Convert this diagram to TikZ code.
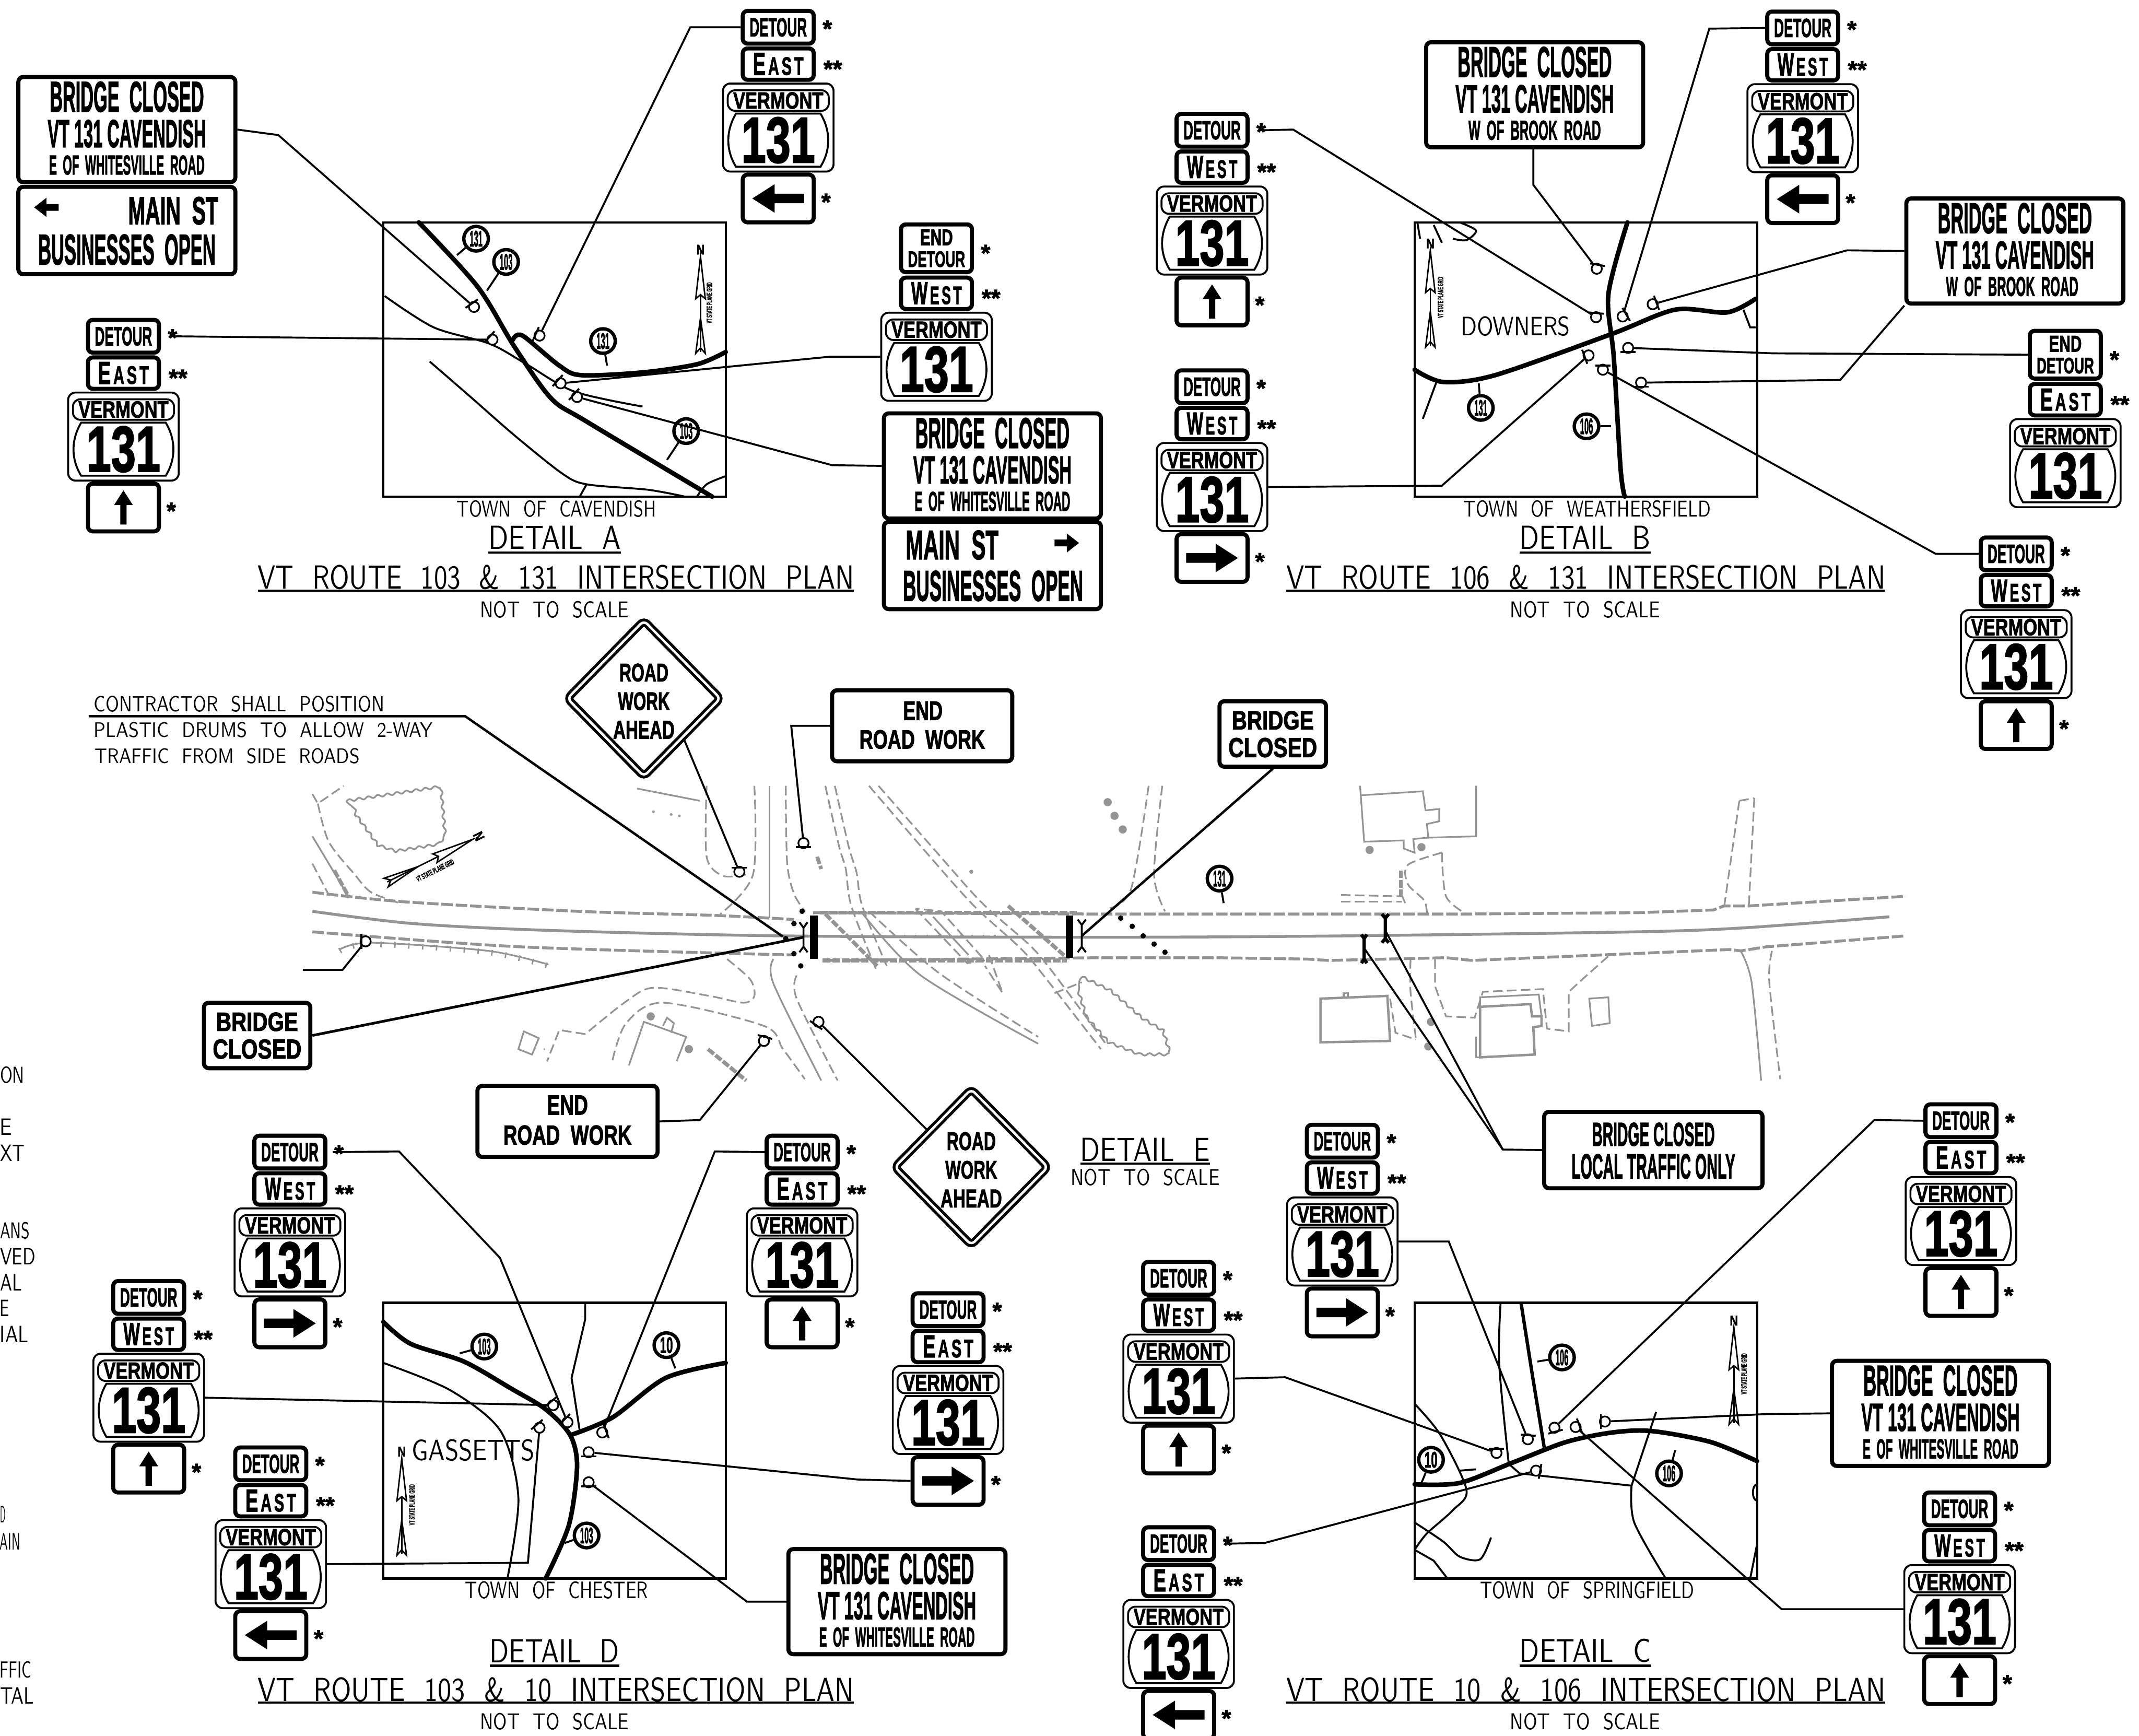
\documentclass[tikz,border=0pt]{standalone}
\usepackage{fontspec}
\usepackage{graphicx}
\usetikzlibrary{shapes.geometric,decorations.pathmorphing}

\newfontfamily\signfont[BoldFeatures={FakeBold=2.2}]{Liberation Sans}

% text fitted to a width and a height in mm
\newcommand{\signtxt}[3]{\resizebox{#1mm}{#2mm}{\signfont\bfseries #3}}
\newcommand{\cadtxt}[3]{\resizebox{#1mm}{#2mm}{\sffamily\spaceskip=.7em\relax #3}}
\newcommand{\eastword}{E\scalebox{.8}{\,A\,S\,T}}
\newcommand{\westword}{W\scalebox{.8}{\,E\,S\,T}}

\tikzset{
    signbox/.style = {draw, line width=.85pt, rounded corners=1pt, fill=white, inner sep=0pt},
    shieldbox/.style = {draw, line width=.4pt, rounded corners=1.5pt, fill=white, inner sep=0pt,
        minimum width=.81cm, minimum height=.645cm},
    pillbox/.style = {draw, line width=.4pt, rounded corners=1.5pt, inner sep=0pt,
        minimum width=.74cm, minimum height=.15cm},
    txt/.style = {inner sep=0pt, outer sep=0pt},
    starmark/.style = {inner sep=0pt, yshift=-1pt, font=\fontsize{5}{6}\signfont\bfseries},
    leader/.style = {draw, line width=.4pt},
    frame/.style = {draw, line width=.45pt, inner sep=0pt},
    mainroad/.style = {line width=.95pt, line cap=round},
    sideroad/.style = {line width=.4pt},
    roadmark/.style = {draw, circle, fill=white, line width=.7pt, inner sep=0pt, minimum size=.18cm},
    post/.style = {draw, circle, fill=white, line width=.35pt, inner sep=0pt, minimum size=.075cm},
    planline/.style = {draw=black!42, line width=.35pt},
    plandash/.style = {draw=black!42, line width=.35pt, dash pattern=on 2pt off .9pt},
    edgedash/.style = {draw=black!42, line width=.6pt, dash pattern=on 2.4pt off .6pt},
    planthick/.style = {draw=black!42, line width=.8pt, dash pattern=on 1.6pt off .4pt},
    plantree/.style = {circle, fill=black!42, inner sep=0pt, minimum width=.04cm, minimum height=.06cm},
    drum/.style = {circle, fill=black, inner sep=0pt, minimum size=.04cm},
    wiggle/.style = {decorate, decoration={snake, amplitude=.25pt, segment length=2pt}},
}

% name, centre x, y of its top
\newcommand{\routeshield}[3]{
    \begin{scope}[shift={(#2,#3)}]
        \node[shieldbox] (#1s) at (0,32.5) {};
        \node[pillbox] (#1p) at (0,12.7) {\signtxt{6.6}{1.2}{VERMONT}};
        \draw[line width=.4pt] (-31,22.3) -- (31,22.3) .. controls (38.5,35) and (38.5,49) .. (31,61.2)
            -- (-31,61.2) .. controls (-38.5,49) and (-38.5,35) .. (-31,22.3) -- cycle;
        \node[txt] (#1n) at (0,41.8) {\signtxt{5.4}{3.3}{131}};
    \end{scope}
}

% name, centre x, top y, direction word, arrow angle
\newcommand{\detourstack}[5]{
    \begin{scope}[shift={(#2,#3)}]
        \node[signbox,minimum width=.52cm,minimum height=.24cm] (#1d) at (0,13.5) {\signtxt{4.2}{1.35}{DETOUR}};
        \node[signbox,minimum width=.52cm,minimum height=.23cm] (#1r) at (0,40.5) {\signtxt{3.7}{1.6}{#4}};
        \node[signbox,minimum width=.52cm,minimum height=.35cm] (#1a) at (0,139) {};
        \ifnum#5=90
            \fill[shift={(0,139)},rotate=#5,scale=.66] (-19,-3.5) -- (2.6,-3.5) -- (2.6,-10.5) -- (19,0) -- (2.6,10.5) -- (2.6,3.5) -- (-19,3.5) -- cycle;
        \else
            \fill[shift={(0,139)},rotate=#5] (-19,-3.5) -- (2.6,-3.5) -- (2.6,-10.5) -- (19,0) -- (2.6,10.5) -- (2.6,3.5) -- (-19,3.5) -- cycle;
        \fi
        \node[starmark] (#1t) at (36,11) {*};
        \node[starmark] (#1u) at (40,40.5) {**};
        \node[starmark] (#1v) at (35,138) {*};
    \end{scope}
    \routeshield{#1}{#2}{#3+54.5}
}

% name, centre x, top y, direction word
\newcommand{\finishstack}[4]{
    \begin{scope}[shift={(#2,#3)}]
        \node[signbox,minimum width=.52cm,minimum height=.35cm] (#1d) at (0,19) {};
        \node[txt] (#1e) at (0,11) {\signtxt{2.4}{1.15}{END}};
        \node[txt] (#1f) at (0,27) {\signtxt{4.2}{1.15}{DETOUR}};
        \node[signbox,minimum width=.52cm,minimum height=.23cm] (#1r) at (0,52) {\signtxt{3.7}{1.6}{#4}};
        \node[starmark] (#1t) at (36,19) {*};
        \node[starmark] (#1u) at (40,52) {**};
    \end{scope}
    \routeshield{#1}{#2}{#3+66}
}

% name, centre x, centre y, last line, its width, its shift
\newcommand{\bridgesign}[6]{
    \begin{scope}[shift={(#2,#3)}]
        \node[signbox,minimum width=1.59cm,minimum height=.77cm] (#1) at (0,0) {};
        \node[txt] (#1x) at (0,-24) {\signtxt{11.3}{2.2}{BRIDGE\ \ CLOSED}};
        \node[txt] (#1y) at (0,3) {\signtxt{11.6}{2}{VT 131 CAVENDISH}};
        \node[txt] (#1z) at (#6,26) {\signtxt{#5}{1.4}{\spaceskip=.5em\relax #4}};
    \end{scope}
}

% name, centre x, centre y
\newcommand{\roadworkdiamond}[3]{
    \begin{scope}[shift={(#2,#3)}]
        \node[diamond,draw,double,double distance=.5pt,line width=.6pt,fill=white,inner sep=0pt,
            minimum width=1.13cm,minimum height=1.15cm,rounded corners=1pt] (#1) at (0,0) {};
        \node[txt] (#1x) at (0,-19) {\signtxt{3.6}{1.3}{ROAD}};
        \node[txt] (#1y) at (0,2) {\signtxt{3.8}{1.3}{WORK}};
        \node[txt] (#1z) at (0,23) {\signtxt{4.5}{1.3}{AHEAD}};
    \end{scope}
}

% name, x, y, angle of the bar
\newcommand{\signpost}[4]{
    \node[post] (#1) at (#2,#3) {};
    \draw[line width=.4pt,shift={(#2,#3)},rotate=#4] (3,-5.5) -- (3,5.5);
}

% name, x, y, text
\newcommand{\routemark}[4]{
    \node[roadmark] (#1) at (#2,#3) {\signtxt{.95}{1.15}{#4}};
}

% name, x, y of the N, rotation
\newcommand{\northmark}[4]{
    \begin{scope}[shift={(#2,#3)},rotate=#4]
        \draw[line width=.3pt] (0,5) -- (-3.5,36) -- (0,33) -- (3.5,36) -- cycle;
        \draw[line width=.3pt] (0,33) -- (0,75);
        \draw[line width=.3pt] (0,50) -- (-3.5,76) -- (0,72) -- (3.5,76) -- cycle;
    \end{scope}
    \node[txt,rotate=#4] (#1n) at (#2,#3) {\signtxt{.6}{.7}{N}};
}

\begin{document}
\begin{tikzpicture}[x=0.01cm,y=-0.01cm]

    \useasboundingbox (0,0) rectangle (1568,1272.3);

    % Detail E, the plan in grey
    \draw[planline,line width=.6pt] plot[smooth] coordinates {(229,668) (303,677) (403,682) (573,686) (808,687) (985,686) (1201,683) (1280,680) (1385,672)};
    \draw[edgedash] plot[smooth] coordinates {(229,654) (296,661) (424,668) (524,671) (582,674)};
    \draw[edgedash] (596,669) -- (808,670) -- (1044,670) -- (1072,670) -- (1201,669) -- (1256,667) -- (1264,664) -- (1283,664) -- (1397,657);
    \draw[edgedash] plot[smooth] coordinates {(229,683) (381,694) (582,700)};
    \draw[edgedash] (607,704) -- (808,702) -- (891,702) -- (958,703) -- (974,704) -- (1060,702) -- (1079,704) -- (1126,702) -- (1150,701) -- (1268,696) -- (1276,697) -- (1295,694) -- (1397,686);
    \draw[planline] (564,576) -- (564,673);
    \draw[plandash] plot[smooth] coordinates {(553,576) (552,641) (528,670)};
    \draw[plandash] plot[smooth] coordinates {(576,576) (577,632) (582,655) (590,668)};
    \draw[planline] (467,578) -- (513,587);
    \draw[plandash] plot[smooth] coordinates {(518,576) (518,628) (530,642) (547,641)};
    \node[plantree,minimum size=.02cm] (ta) at (479,595) {};
    \node[plantree,minimum size=.02cm] (tb) at (492,597) {};
    \node[plantree,minimum size=.02cm] (tc) at (498,598) {};

    % west of the side road
    \draw[planline,wiggle] (254,587) -- (320,577) -- (323,611) -- (318,617) -- (287,622) -- (272,617) -- (256,595) -- cycle;
    \draw[plandash] (229,582) -- (233,589) -- (252,576);
    \draw[plandash] plot[smooth] coordinates {(233,589) (241,617) (260,641) (272,654) (293,662)};
    \draw[plandash] (229,633) -- (241,656);
    \draw[planline] (229,613) -- (256,658);
    \draw[planthick] (245,638) -- (256,658);
    \draw[planline] plot[smooth] coordinates {(249,696) (272,691) (358,697) (402,707)};
    \draw[draw=black!42,line width=1.2pt,dash pattern=on .3pt off 2.6pt] plot[smooth] coordinates {(249,697) (272,692) (358,698) (402,708)};
    \northmark{nx}{351}{613}{-63.5}
    \node[txt,rotate=26.5] (nxg) at (319,638) {\signtxt{3}{.4}{VT STATE PLANE GRID}};

    % stream and bridge
    \draw[planthick] (601,669) -- (790,669);
    \draw[planthick] (603,704) -- (782,704);
    \draw[planline,dotted] (646,686) -- (731,686);
    \draw[plandash] plot[smooth] coordinates {(605,576) (615,620) (620,637) (624,664) (642,710)};
    \draw[plandash] plot[smooth] coordinates {(612,576) (622,620) (628,640) (632,664) (650,708)};
    \draw[planthick] (605,670) -- (643,708);
    \draw[planline] plot[smooth] coordinates {(631,668) (675,715) (761,765)};
    \draw[plandash] plot[smooth] coordinates {(637,668) (688,713) (761,760)};
    \draw[plandash] plot[smooth] coordinates {(637,576) (680,626) (714,664) (748,695) (765,715) (807,769)};
    \draw[plandash] plot[smooth] coordinates {(644,576) (686,624) (720,662) (755,693) (772,713) (812,767)};
    \draw[planthick] (739,664) -- (782,702);
    \draw[plandash] (671,666) -- (709,706) -- (722,704) -- (690,668) -- cycle;
    \draw[planline] (684,672) -- (710,700);
    \draw[plandash] (725,700) -- (735,728) -- (722,708);
    \draw[planline,wiggle] (793,716) -- (812,725) -- (835,745) -- (852,755) -- (857,771) -- (835,771) -- (812,762) -- (797,745) -- (790,722) -- cycle;
    \draw[plandash] (773,728) -- (793,720);
    \draw[plandash] plot[smooth] coordinates {(852,576) (846,641) (854,668)};
    \draw[plandash] plot[smooth] coordinates {(842,576) (829,652) (812,666)};
    \node[plantree] (td) at (812,588) {};
    \node[plantree] (te) at (817,598) {};
    \node[plantree] (tf) at (823,608) {};
    \node[plantree,minimum height=.03cm,minimum width=.02cm] (tg) at (712,639) {};
    \draw[planthick] (599,628) -- (602,637);

    % south of the road, west part
    \draw[plandash] plot[smooth] coordinates {(533,703) (550,718) (553,730) (545,735) (520,730) (479,724) (459,734) (429,758)};
    \draw[plandash] (429,758) -- (410,755) -- (401,778);
    \draw[plandash] plot[smooth] coordinates {(449,777) (459,750) (486,735) (560,752) (574,769) (590,791)};
    \draw[planline] plot[smooth] coordinates {(567,703) (567,721) (602,792)};
    \draw[plandash] plot[smooth] coordinates {(584,715) (584,732) (614,792)};
    \draw[planline] (461,781) -- (472,749) -- (503,760) -- (496,778);
    \draw[planline] (486,752) -- (489,746) -- (494,750) -- (492,757);
    \draw[planline] (384,756) -- (395,761) -- (390,773) -- (380,769) -- cycle;
    \node[plantree] (th) at (477,745) {};
    \node[plantree] (ti) at (505,769) {};
    \node[plantree,minimum size=.015cm] (tj) at (399,769) {};
    \draw[planthick] (519,769) -- (547,792);

    % buildings east of the bridge
    \draw[planline] (997,583) -- (1043,580) -- (1045,594) -- (1055,593) -- (1055,602) -- (1046,604) -- (1047,614) -- (1082,613) -- (1082,576);
    \draw[planline] (997,576) -- (1000,617) -- (1029,616) -- (1029,622) -- (1037,625) -- (1036,615) -- (1047,614);
    \node[plantree] (tk) at (1004,623) {};
    \node[plantree] (tl) at (1042,621) {};
    \draw[plandash] plot[smooth] coordinates {(1057,625) (1032,634) (1032,648) (1044,660) (1046,670)};
    \draw[plandash] plot[smooth] coordinates {(1057,625) (1060,657) (1075,670)};
    \draw[planthick] (1027,638) -- (1027,657);
    \draw[plandash] (983,656) -- (1028,657);
    \draw[plandash] (983,661) -- (1028,661);
    \draw[planline] (1028,657) -- (1030,662);
    \draw[plandash] (1275,587) -- (1286,585);
    \draw[plandash] (1275,587) -- (1264,664);
    \draw[plandash] (1286,585) -- (1282,664);
    \draw[plandash] plot[smooth] coordinates {(1034,703) (1034,727) (1038,762)};
    \draw[plandash] (1019,732) -- (1023,757) -- (1038,762);
    \draw[plandash] (1052,703) -- (1052,723) -- (1060,745) -- (1081,746) -- (1087,727) -- (1131,725) -- (1134,754) -- (1150,756) -- (1150,727) -- (1162,716) -- (1180,700);
    \draw[planline,line width=.5pt] (968,732) -- (1017,730) -- (1019,763) -- (968,764) -- cycle;
    \draw[planline] (985,731) -- (985,728) -- (988,728) -- (988,731);
    \draw[planline,line width=.5pt] (1085,738) -- (1122,736) -- (1123,745) -- (1130,745) -- (1130,752) -- (1124,753) -- (1125,773) -- (1085,775) -- cycle;
    \draw[planline] (1085,738) -- (1085,731) -- (1128,729) -- (1130,745);
    \draw[planline] (1082,760) -- (1082,775) -- (1085,775);
    \draw[planline] (1165,732) -- (1179,731) -- (1180,750) -- (1167,752) -- cycle;
    \draw[planline] plot[smooth] coordinates {(1276,697) (1284,720) (1291,792)};
    \draw[plandash] plot[smooth] coordinates {(1299,697) (1297,720) (1305,791)};
    \node[plantree] (tm) at (1049,749) {};
    \node[plantree] (tn) at (1047,767) {};

    % Barricades and drums
    \draw[line width=1.6pt] (596.5,671) -- (596.5,703);
    \draw[line width=1.6pt] (784,671) -- (784,702);
    \draw[line width=.4pt] (589,680) -- (589,694) (586,676) -- (589,680) -- (592,676) (586,698) -- (589,694) -- (592,698);
    \coordinate (bca) at (589,687);
    \draw[line width=.4pt] (793,678) -- (793,694) (790,674) -- (793,678) -- (796,674) (790,698) -- (793,694) -- (796,698);
    \coordinate (bcb) at (793,686);
    \draw[line width=.7pt] (1000,688) -- (1000,703) (998,685) -- (1000,688) -- (1002,685) (998,706) -- (1000,703) -- (1002,706);
    \coordinate (bcc) at (1000,695);
    \draw[line width=.7pt] (1015.5,673) -- (1015.5,688) (1013,670) -- (1015.5,673) -- (1018,670) (1013,691) -- (1015.5,688) -- (1018,691);
    \coordinate (bcd) at (1015.5,682);
    \foreach \dname/\dx/\dy in {da/588/668,db/582/677,dc/576/688,dd/582/699,de/587/708,df/821.5/673,dg/830/679,dh/838/686,di/846/692,dj/854/698}{
        \node[drum] (\dname) at (\dx,\dy) {};
    }
    \routemark{rme}{894}{644}{131}
    \draw[line width=.4pt] (rme) -- (897,662);

    % Note
    \node[txt,anchor=west] (nta) at (68.8,516) {\cadtxt{21.3}{1.15}{CONTRACTOR SHALL POSITION}};
    \node[txt,anchor=west] (ntb) at (68.8,535) {\cadtxt{24.8}{1.1}{PLASTIC DRUMS TO ALLOW 2-WAY}};
    \node[txt,anchor=west] (ntc) at (69.6,554) {\cadtxt{19.4}{1.1}{TRAFFIC FROM SIDE ROADS}};
    \coordinate (ntl) at (65,525);
    \draw[leader,line width=.5pt] (ntl) -- (341,525) -- (dc);

    % Signs of detail E
    \roadworkdiamond{rwa}{472}{512}
    \roadworkdiamond{rwb}{712}{855.5}
    \node[signbox,minimum width=1.32cm,minimum height=.52cm] (era) at (676,532) {};
    \node[txt] (erax) at (676.5,521) {\signtxt{2.9}{1.35}{END}};
    \node[txt] (eray) at (676,542) {\signtxt{9.2}{1.35}{ROAD\ \ WORK}};
    \node[signbox,minimum width=1.32cm,minimum height=.52cm] (erb) at (416,822) {};
    \node[txt] (erbx) at (416,810) {\signtxt{3}{1.4}{END}};
    \node[txt] (erby) at (416,832) {\signtxt{9.4}{1.4}{ROAD\ \ WORK}};
    \node[signbox,minimum width=.78cm,minimum height=.48cm] (bca1) at (188.5,759) {};
    \node[txt] (bca1x) at (188.5,749) {\signtxt{6}{1.35}{BRIDGE}};
    \node[txt] (bca1y) at (188.5,769) {\signtxt{6.5}{1.4}{CLOSED}};
    \node[signbox,minimum width=.78cm,minimum height=.48cm] (bcb1) at (933,538) {};
    \node[txt] (bcb1x) at (933,528) {\signtxt{6}{1.35}{BRIDGE}};
    \node[txt] (bcb1y) at (933,548) {\signtxt{6.5}{1.4}{CLOSED}};
    \node[signbox,minimum width=1.6cm,minimum height=.56cm] (lto) at (1212,843) {};
    \node[txt] (ltox) at (1212,831.5) {\signtxt{9}{1.7}{BRIDGE CLOSED}};
    \node[txt] (ltoy) at (1212,855) {\signtxt{12}{1.8}{LOCAL TRAFFIC ONLY}};

    \signpost{pea}{542}{639}{90}
    \signpost{peb}{589}{618}{-90}
    \signpost{pec}{600}{749}{-125}
    \signpost{ped}{560}{763}{75}
    \signpost{pee}{268}{690}{180}
    \draw[leader] (rwa.-45) -- (pea);
    \draw[leader] (era.west) -- (580,532) -- (peb);
    \draw[leader] (rwb.140) -- (pec);
    \draw[leader] (erb.east) -- (513,821) -- (ped);
    \coordinate (eel) at (222,711);
    \draw[leader] (eel) -- (251,711) -- (pee);
    \draw[leader,line width=.55pt] (bca1.east) -- (bca);
    \draw[leader,line width=.5pt] (bcb1.south) -- (bcb);
    \draw[leader] (lto.west) -- (1101.6,842.6) -- (bcc);
    \draw[leader] (1101.6,842.6) -- (bcd);

    % Titles of detail E
    \node[txt] (dete) at (839.5,842.5) {\cadtxt{9.5}{1.7}{DETAIL E}};
    \draw[line width=.45pt] (792,853) -- (887,853);
    \node[txt] (nse) at (839.5,863) {\cadtxt{10.9}{1.2}{NOT TO SCALE}};

    % Detail A
    \node[frame,minimum width=2.51cm,minimum height=2.01cm] (fra) at (406.5,263.5) {};
    \draw[mainroad] plot[smooth] coordinates {(307,163) (350,210) (377,254) (404,292) (430,309) (522,364)};
    \draw[mainroad] plot[smooth] coordinates {(376,249) (383,246) (410,268) (426,275) (471,273) (511,267) (532,258)};
    \draw[sideroad] plot[smooth] coordinates {(282,217) (318,240) (359,252) (386,267) (421,287) (471,298)};
    \draw[sideroad] plot[smooth] coordinates {(315,265) (345,291) (377,319) (412,347) (430,355) (475,359) (502,364)};
    \draw[sideroad] (430,355) -- (425,364);
    \draw[sideroad] plot[smooth] coordinates {(511,364) (518,355) (532,349)};
    \routemark{ra1}{349}{175}{131}
    \routemark{ra2}{371}{192}{103}
    \routemark{ra3}{442}{250}{131}
    \routemark{ra4}{503}{316}{103}
    \draw[line width=.4pt] (ra1) -- (335,187);
    \draw[line width=.4pt] (ra2) -- (357,213);
    \draw[line width=.4pt] (ra3) -- (445,268);
    \draw[line width=.4pt] (ra4) -- (489,337);
    \northmark{na}{513.5}{183}{0}
    \node[txt,rotate=90] (nag) at (520,222) {\signtxt{3}{.4}{VT STATE PLANE GRID}};
    \signpost{pa1}{347.5}{225}{125}
    \signpost{pa2}{361}{249}{138}
    \signpost{pa3}{395.5}{246}{156}
    \signpost{pa4}{411}{281}{138}
    \signpost{pa5}{423}{291}{138}

    \node[txt] (twa) at (408,373) {\cadtxt{14.6}{1.2}{TOWN OF CAVENDISH}};
    \node[txt] (deta) at (406.5,394) {\cadtxt{9.7}{1.7}{DETAIL A}};
    \draw[line width=.45pt] (358,405) -- (455,405);
    \node[txt] (tla) at (407.5,423) {\cadtxt{43.7}{1.75}{VT ROUTE 103 \& 131 INTERSECTION PLAN}};
    \draw[line width=.45pt] (189,433) -- (626,433);
    \node[txt] (nsa) at (406.5,447) {\cadtxt{10.9}{1.2}{NOT TO SCALE}};

    \bridgesign{bsa}{93}{95}{E OF WHITESVILLE ROAD}{11.4}{0}
    \node[signbox,minimum width=1.59cm,minimum height=.64cm] (bsas) at (93,169) {};
    \fill[shift={(34,152)},rotate=180] (-9,-2.5) -- (0,-2.5) -- (0,-7) -- (9,0) -- (0,7) -- (0,2.5) -- (-9,2.5) -- cycle;
    \node[txt] (bsasx) at (127,154.5) {\signtxt{6.6}{2}{MAIN\ \ ST}};
    \node[txt] (bsasy) at (93,183) {\signtxt{13}{2.2}{BUSINESSES\ \ OPEN}};
    \bridgesign{bsb}{727.5}{341.5}{E OF WHITESVILLE ROAD}{11.4}{0}
    \node[signbox,minimum width=1.59cm,minimum height=.64cm] (bsbs) at (727.5,414.5) {};
    \fill[shift={(782,398)}] (-9,-2.5) -- (0,-2.5) -- (0,-7) -- (9,0) -- (0,7) -- (0,2.5) -- (-9,2.5) -- cycle;
    \node[txt] (bsbsx) at (698,399.5) {\signtxt{6.8}{2.1}{MAIN\ \ ST}};
    \node[txt] (bsbsy) at (728,429.5) {\signtxt{13.2}{2.2}{BUSINESSES\ \ OPEN}};

    \detourstack{a1}{570.5}{6.5}{\eastword}{180}
    \detourstack{a2}{90.5}{233}{\eastword}{90}
    \finishstack{a3}{686.5}{163}{\westword}

    \draw[leader] (bsa.east) -- (204,99) -- (pa1);
    \draw[leader] (a2d.east) ++(8,0) -- (pa2);
    \draw[leader] (a1d.west) -- (506,20) -- (pa3);
    \draw[leader] (a3s.west) -- (608,261.5) -- (pa4);
    \draw[leader] (bsb.west) -- (610,341) -- (pa5);

    % Detail B
    \node[frame,minimum width=2.51cm,minimum height=2.01cm] (frb) at (1162.5,263.5) {};
    \draw[mainroad] plot[smooth] coordinates {(1193,163) (1179,216) (1183,262) (1188,344) (1191,364)};
    \draw[mainroad] plot[smooth] coordinates {(1037,271) (1058,280) (1096,275) (1181,245) (1228,227) (1266,229) (1287,219)};
    \draw[sideroad] (1039,163) -- (1041,175);
    \draw[sideroad] (1051,165) -- (1057,178);
    \draw[sideroad] plot[smooth] coordinates {(1070,163) (1082,169) (1075,176) (1065,175)};
    \draw[sideroad] (1278,227) -- (1283,240) -- (1287,240);
    \draw[sideroad] (1053,280) -- (1043,307);
    \routemark{rb1}{1085.5}{299}{131}
    \routemark{rb2}{1163}{312.5}{106}
    \draw[line width=.4pt] (rb1) -- (1084,281);
    \draw[line width=.4pt] (rb2) -- (1181,312.5);
    \northmark{nb}{1048.5}{178.5}{0}
    \node[txt,rotate=90] (nbg) at (1056,218) {\signtxt{3}{.4}{VT STATE PLANE GRID}};
    \node[txt] (dwn) at (1111,239) {\cadtxt{8}{1.4}{DOWNERS}};
    \signpost{pb1}{1170.5}{197}{80}
    \signpost{pb2}{1170}{232.5}{85}
    \signpost{pb3}{1189.5}{232}{30}
    \signpost{pb4}{1211.5}{223}{20}
    \signpost{pb5}{1193.5}{255}{-90}
    \signpost{pb6}{1164.5}{260.5}{200}
    \signpost{pb7}{1175}{271}{90}
    \signpost{pb8}{1203}{280.5}{-90}

    \node[txt] (twb) at (1163.5,373) {\cadtxt{18.1}{1.2}{TOWN OF WEATHERSFIELD}};
    \node[txt] (detb) at (1162,394) {\cadtxt{9.6}{1.7}{DETAIL B}};
    \draw[line width=.45pt] (1114,405) -- (1210,405);
    \node[txt] (tlb) at (1162.5,423) {\cadtxt{43.9}{1.75}{VT ROUTE 106 \& 131 INTERSECTION PLAN}};
    \draw[line width=.45pt] (943,433) -- (1382,433);
    \node[txt] (nsb) at (1162,447) {\cadtxt{11}{1.2}{NOT TO SCALE}};

    \bridgesign{bsc}{1125}{69.5}{W OF BROOK ROAD}{9.7}{0}
    \bridgesign{bsd}{1477}{184}{W OF BROOK ROAD}{9.7}{-2}
    \detourstack{b1}{888.5}{82}{\westword}{90}
    \detourstack{b2}{888.5}{270}{\westword}{0}
    \detourstack{b3}{1321.5}{7}{\westword}{180}
    \finishstack{b4}{1514}{241}{\eastword}
    \detourstack{b5}{1478}{392.5}{\westword}{90}

    \draw[leader] (bsc.south) ++(-1,0) -- (1124,135.5) -- (pb1);
    \draw[leader] (b1d.east) ++(8,0) -- (948,95) -- (pb2);
    \draw[leader] (b3d.west) -- (1253,21) -- (pb3);
    \draw[leader] (bsd.west) -- (1354,183.5) -- (pb4);
    \draw[leader] (b4d.west) -- (1300,259) -- (pb5);
    \draw[leader] (b2s.east) -- (1057,356) -- (pb6);
    \draw[leader] (b5d.west) -- (1419,406) -- (pb7);
    \draw[leader] (bsd.south west) -- (1349,278.5) -- (pb8);

    % Detail D
    \node[frame,minimum width=2.51cm,minimum height=2.02cm] (frd) at (406.5,1056) {};
    \draw[mainroad] plot[smooth] coordinates {(281,969) (301,985) (340,998) (375,1018) (400,1033) (418,1052) (423,1075) (417,1118) (400,1157)};
    \draw[mainroad] plot[smooth] coordinates {(418,1052) (449,1039) (488,1010) (532,999)};
    \draw[sideroad] plot[smooth] coordinates {(281,999) (330,1019) (367,1049) (380,1098) (372,1157)};
    \draw[sideroad] (429,955) -- (429,967) -- (419,1010) -- (425,1049);
    \routemark{rd1}{355}{987}{103}
    \routemark{rd2}{488.5}{986}{10}
    \routemark{rd3}{430}{1125.5}{103}
    \draw[line width=.4pt] (rd1) -- (337,992);
    \draw[line width=.4pt] (rd2) -- (495,1003);
    \draw[line width=.4pt] (rd3) -- (414,1131);
    \northmark{nd}{294.5}{1064}{0}
    \node[txt,rotate=90] (ndg) at (302,1103) {\signtxt{3}{.4}{VT STATE PLANE GRID}};
    \node[txt] (gss) at (347,1063) {\cadtxt{9}{1.55}{GASSETTS}};
    \signpost{pd1}{405.5}{1030}{130}
    \signpost{pd2}{416}{1042.5}{135}
    \signpost{pd3}{395.5}{1046.5}{130}
    \signpost{pd4}{441.5}{1050}{20}
    \signpost{pd5}{431.5}{1064.5}{-90}
    \signpost{pd6}{431.5}{1086.5}{-90}

    \node[txt] (twd) at (408,1165.5) {\cadtxt{13.4}{1.25}{TOWN OF CHESTER}};
    \node[txt] (detd) at (406.5,1210) {\cadtxt{9.5}{1.7}{DETAIL D}};
    \draw[line width=.45pt] (359,1221) -- (454,1221);
    \node[txt] (tld) at (407.5,1238.5) {\cadtxt{43.7}{1.75}{VT ROUTE 103 \& 10 INTERSECTION PLAN}};
    \draw[line width=.45pt] (189,1248) -- (626,1248);
    \node[txt] (nsd) at (406.5,1262) {\cadtxt{10.9}{1.2}{NOT TO SCALE}};

    \bridgesign{bse}{657.5}{1174}{E OF WHITESVILLE ROAD}{11.4}{0}
    \detourstack{d1}{212.5}{831}{\westword}{0}
    \detourstack{d2}{109}{937.5}{\westword}{90}
    \detourstack{d3}{198.5}{1059.5}{\eastword}{180}
    \detourstack{d4}{588}{831}{\eastword}{90}
    \detourstack{d5}{695}{946.5}{\eastword}{0}

    \draw[leader] (d1d.east) ++(4,0) -- (292.5,844) -- (366.5,922) -- (pd2);
    \draw[leader] (d4d.west) -- (524,844) -- (pd4);
    \draw[leader] (d2s.east) -- (pd1);
    \draw[leader] (d3s.east) -- (387,1145.5) -- (pd3);
    \draw[leader] (d5a.west) -- (629,1084.5) -- (pd5);
    \draw[leader] (bse.west) -- (547.5,1174) -- (pd6);

    % Detail C
    \node[frame,minimum width=2.51cm,minimum height=2.02cm] (frc) at (1162.5,1056) {};
    \draw[mainroad] plot[smooth] coordinates {(1037,1088) (1070,1087) (1109,1072) (1148,1057) (1182,1050) (1211,1049) (1254,1057) (1288,1071)};
    \draw[line width=.7pt] (1115,955) -- (1123,1006) -- (1132,1061);
    \draw[sideroad] plot[smooth] coordinates {(1100,955) (1099,1000) (1106,1073)};
    \draw[sideroad] (1106,1073) -- (1114,1080) -- (1196,1089) -- (1214,1035);
    \draw[sideroad] plot[smooth] coordinates {(1196,1089) (1198,1116) (1221,1157)};
    \draw[sideroad] plot[smooth] coordinates {(1037,1029) (1056,1052) (1075,1092) (1065,1107) (1046,1124) (1037,1136)};
    \draw[sideroad] plot[smooth] coordinates {(1037,1116) (1058,1130) (1070,1141) (1085,1143) (1093,1127)};
    \draw[sideroad] (1037,1136) -- (1051,1144) -- (1061,1157);
    \draw[sideroad] (1070,1078) -- (1082,1077);
    \draw[sideroad] (1288,1100) arc (90:270:3 and 6);
    \draw[sideroad] (1288,1132) -- (1283,1157);
    \routemark{rc1}{1145}{995}{106}
    \routemark{rc2}{1049}{1070}{10}
    \routemark{rc3}{1223.5}{1080}{106}
    \draw[line width=.4pt] (rc1) -- (1127,998);
    \draw[line width=.4pt] (rc2) -- (1042,1087);
    \draw[line width=.4pt] (rc3) -- (1228,1063);
    \northmark{nc}{1271}{968}{0}
    \node[txt,rotate=90] (ncg) at (1278.5,1007) {\signtxt{3}{.4}{VT STATE PLANE GRID}};
    \signpost{pc1}{1097}{1065}{90}
    \signpost{pc2}{1120}{1055}{85}
    \signpost{pc3}{1139.5}{1046.5}{-75}
    \signpost{pc4}{1155}{1046}{20}
    \signpost{pc5}{1176.5}{1042}{180}
    \signpost{pc6}{1126}{1078}{-10}

    \node[txt] (twc) at (1163.5,1165.5) {\cadtxt{15.7}{1.25}{TOWN OF SPRINGFIELD}};
    \node[txt] (detc) at (1162,1210) {\cadtxt{9.6}{1.7}{DETAIL C}};
    \draw[line width=.45pt] (1114,1221) -- (1210,1221);
    \node[txt] (tlc) at (1162.5,1238.5) {\cadtxt{43.9}{1.75}{VT ROUTE 10 \& 106 INTERSECTION PLAN}};
    \draw[line width=.45pt] (943,1248) -- (1382,1248);
    \node[txt] (nsc) at (1162,1262) {\cadtxt{11}{1.2}{NOT TO SCALE}};

    \bridgesign{bsf}{1422.5}{1036}{E OF WHITESVILLE ROAD}{11.4}{0}
    \detourstack{c1}{984}{823}{\westword}{0}
    \detourstack{c2}{864}{923.5}{\westword}{90}
    \detourstack{c3}{864}{1118}{\eastword}{180}
    \detourstack{c4}{1437.5}{808}{\eastword}{90}
    \detourstack{c5}{1436.5}{1092.5}{\westword}{90}

    \draw[leader] (c1s.east) -- (1062,910) -- (pc2);
    \draw[leader] (c2s.east) -- (942,1009.5) -- (pc1);
    \draw[leader] (c3d.east) ++(8,0) -- (927,1131) -- (pc6);
    \draw[leader] (c4d.west) -- (1374,821) -- (pc3);
    \draw[leader] (bsf.west) -- (1295,1036.5) -- (pc5);
    \draw[leader] (c5s.west) -- (1306,1179.5) -- (pc4);

    % Notes cut by the left edge
    \foreach \mname/\mx/\my/\mt in {ma/788/1.8/ON,mb/826/.9/E,mc/845/1.8/XT,md/902/2.2/ANS,me/921/2.6/VED,mf/940/1.6/AL,mg/959/.7/E,mh/978/2.1/IAL,mi/1110/.4/D,mj/1130/1.5/AIN,mk/1224/2.3/FFIC,ml/1243/2.5/TAL}{
        \node[txt,anchor=west] (\mname) at (0,\mx) {\cadtxt{\my}{1.2}{\mt}};
    }

\end{tikzpicture}
\end{document}
